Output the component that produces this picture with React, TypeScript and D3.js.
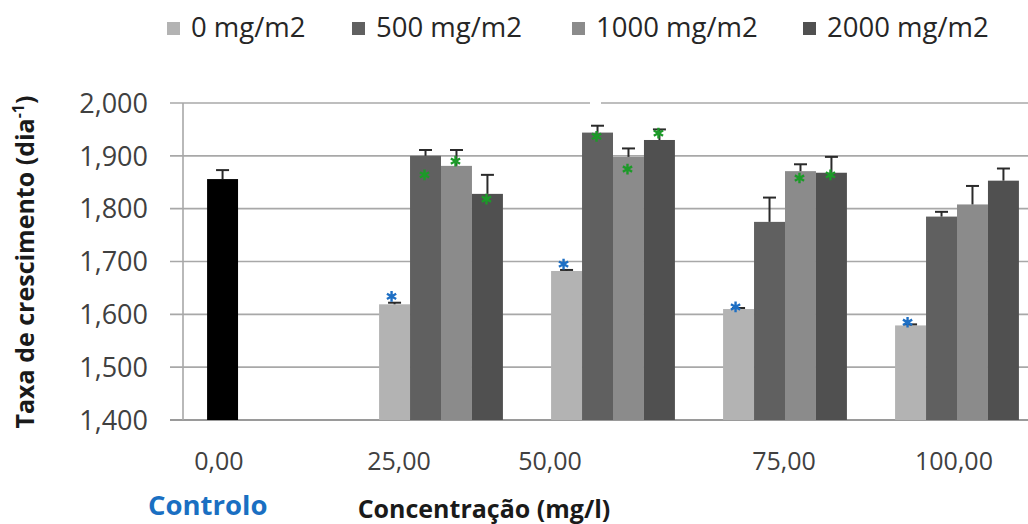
import React from "react";
import * as d3 from "d3";

// ---------- data ----------
const categories = ["0,00", "25,00", "50,00", "75,00", "100,00"];
const seriesNames = ["0 mg/m2", "500 mg/m2", "1000 mg/m2", "2000 mg/m2"];
const treatedCategories = ["25,00", "50,00", "75,00", "100,00"];

const controlCategory = "0,00";
const controlValue = 1.856;
const controlError = 0.017;

const s0Values = [1.619, 1.682, 1.61, 1.579];
const s0Errors = [0.003, 0.002, 0.002, 0.002];
const s500Values = [1.9, 1.944, 1.775, 1.785];
const s500Errors = [0.011, 0.013, 0.046, 0.009];
const s1000Values = [1.881, 1.898, 1.871, 1.808];
const s1000Errors = [0.03, 0.016, 0.013, 0.035];
const s2000Values = [1.828, 1.93, 1.868, 1.853];
const s2000Errors = [0.036, 0.02, 0.03, 0.023];

const yTicks = [1.4, 1.5, 1.6, 1.7, 1.8, 1.9, 2.0];

// significance markers: category, series index, value
const blueMarks = [
  { cat: "25,00", s: 0, v: 1.634 },
  { cat: "50,00", s: 0, v: 1.695 },
  { cat: "75,00", s: 0, v: 1.614 },
  { cat: "100,00", s: 0, v: 1.585 },
];
const greenMarks = [
  { cat: "25,00", s: 1, v: 1.864 },
  { cat: "25,00", s: 2, v: 1.89 },
  { cat: "25,00", s: 3, v: 1.818 },
  { cat: "50,00", s: 1, v: 1.937 },
  { cat: "50,00", s: 2, v: 1.875 },
  { cat: "50,00", s: 3, v: 1.943 },
  { cat: "75,00", s: 2, v: 1.858 },
  { cat: "75,00", s: 3, v: 1.864 },
];

// ---------- layout / style ----------
const W = 1028;
const H = 524;
const M = { left: 183, top: 103, bottom: 420, right: 1043 };
const seriesColors = ["#b3b3b3", "#606060", "#8b8b8b", "#505050"];
const labelShift = [-50, -42, -63, -1, -3];
const FONT = "'Open Sans', 'DejaVu Sans', sans-serif";

export default function App() {
  const x = d3
    .scaleBand<string>()
    .domain(categories)
    .range([M.left, M.right])
    .paddingInner(0.28)
    .paddingOuter(0.14);
  const xs = d3
    .scaleBand<string>()
    .domain(seriesNames)
    .range([0, x.bandwidth()]);
  const y = d3.scaleLinear().domain([1.4, 2.0]).range([M.bottom, M.top]);

  const locale = d3.formatLocale({
    decimal: ",",
    thousands: ".",
    grouping: [3],
    currency: ["", "€"],
  });
  const fmt = locale.format(".3f");

  const series = [
    { vals: s0Values, errs: s0Errors },
    { vals: s500Values, errs: s500Errors },
    { vals: s1000Values, errs: s1000Errors },
    { vals: s2000Values, errs: s2000Errors },
  ];

  const bars: any[] = [];
  bars.push({
    x: (x(controlCategory) as number) + (xs(seriesNames[0]) as number),
    v: controlValue,
    e: controlError,
    color: "#000000",
  });
  series.forEach((s, si) => {
    treatedCategories.forEach((c, ci) => {
      bars.push({
        x: (x(c) as number) + (xs(seriesNames[si]) as number),
        v: s.vals[ci],
        e: s.errs[ci],
        color: seriesColors[si],
      });
    });
  });

  const bw = xs.bandwidth();
  const ast = d3.symbol().type(d3.symbolAsterisk).size(80)() as string;

  const markPos = (m: any) =>
    (x(m.cat) as number) + (xs(seriesNames[m.s]) as number) + bw / 2 - 3;

  const legendX = [167, 352, 572, 803];

  return (
    <svg
      width={W}
      height={H}
      style={{ position: "absolute", left: 0, top: 0, background: "#fff" }}
      fontFamily={FONT}
    >
      <rect x={0} y={0} width={W} height={H} fill="#ffffff" />
      {/* legend */}
      {seriesNames.map((n, i) => (
        <g key={n}>
          <rect x={legendX[i]} y={22} width={13} height={13} fill={seriesColors[i]} />
          <text x={legendX[i] + 24} y={37} fontSize={27.5} fill="#262626">
            {n}
          </text>
        </g>
      ))}

      {/* gridlines */}
      {yTicks.map((t) => (
        <line
          key={t}
          x1={170}
          x2={W}
          y1={y(t)}
          y2={y(t)}
          stroke={t === 1.4 ? "#9a9a9a" : "#a8a8a8"}
          strokeWidth={t === 1.4 ? 2 : 1.6}
        />
      ))}
      <line x1={M.left} x2={M.left} y1={M.top} y2={M.bottom} stroke="#a8a8a8" strokeWidth={1.6} />
      <rect x={590} y={y(2.0) - 3} width={11} height={6} fill="#ffffff" />

      {/* y tick labels */}
      {yTicks.map((t) => (
        <text
          key={"l" + t}
          x={148}
          y={y(t)}
          dy="0.36em"
          textAnchor="end"
          fontSize={27}
          fill="#404040"
        >
          {fmt(t)}
        </text>
      ))}

      {/* bars */}
      {bars.map((b, i) => (
        <rect
          key={"b" + i}
          x={b.x}
          y={y(b.v)}
          width={bw}
          height={M.bottom - y(b.v)}
          fill={b.color}
        />
      ))}

      {/* error bars */}
      {bars.map((b, i) => {
        const cx = b.x + bw / 2;
        return (
          <g key={"e" + i} stroke="#2a2a2a" strokeWidth={2}>
            <line x1={cx} x2={cx} y1={y(b.v)} y2={y(b.v + b.e)} />
            <line x1={cx - 6.5} x2={cx + 6.5} y1={y(b.v + b.e)} y2={y(b.v + b.e)} />
          </g>
        );
      })}

      {/* markers */}
      {blueMarks.map((m, i) => (
        <path
          key={"bm" + i}
          d={ast}
          transform={`translate(${markPos(m)},${y(m.v)})`}
          stroke="#1e6fc4"
          strokeWidth={2.4}
          fill="none"
        />
      ))}
      {greenMarks.map((m, i) => (
        <path
          key={"gm" + i}
          d={ast}
          transform={`translate(${markPos(m) + 2},${y(m.v)})`}
          stroke="#1c9a28"
          strokeWidth={2.4}
          fill="none"
        />
      ))}

      {/* x labels */}
      {categories.map((c, i) => (
        <text
          key={"x" + c}
          x={(x(c) as number) + x.bandwidth() / 2 + labelShift[i]}
          y={470}
          textAnchor="middle"
          fontSize={25}
          fill="#404040"
        >
          {c}
        </text>
      ))}

      <text x={148} y={515} fontSize={27.5} fontWeight="bold" fill="#1a6fc2">
        Controlo
      </text>
      <text x={484} y={518} textAnchor="middle" fontSize={25} fontWeight="bold" fill="#1a1a1a">
        Concentração (mg/l)
      </text>

      {/* y title */}
      <text
        transform="translate(34,262) rotate(-90)"
        textAnchor="middle"
        fontSize={25}
        fontWeight="bold"
        fill="#1a1a1a"
      >
        Taxa de crescimento (dia
        <tspan fontSize={16} dy={-10}>-1</tspan>
        <tspan dy={10}>)</tspan>
      </text>
    </svg>
  );
}
